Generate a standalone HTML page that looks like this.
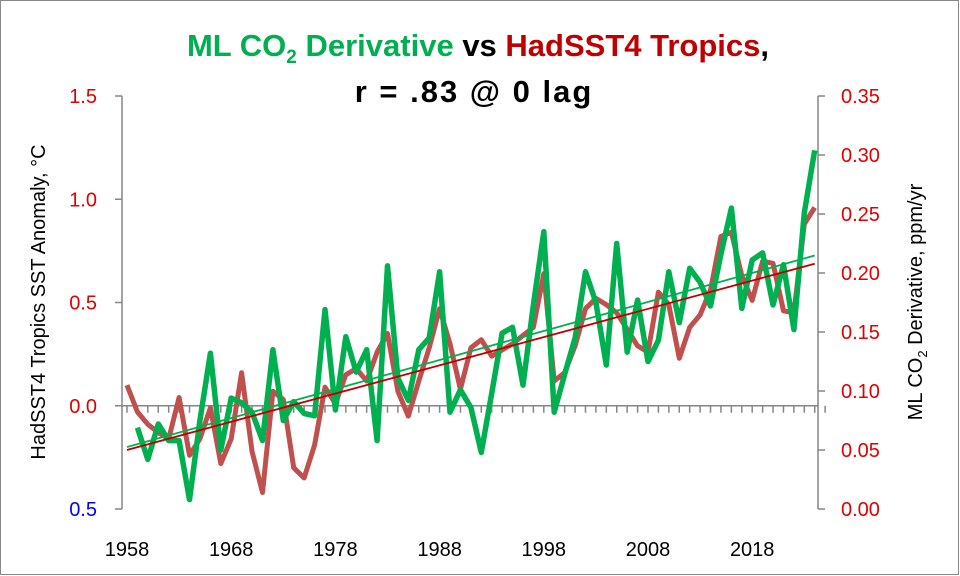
<!DOCTYPE html>
<html><head><meta charset="utf-8"><style>
body{margin:0;background:#fff}
svg{display:block;font-family:"Liberation Sans",sans-serif}
</style></head><body>
<svg id="chart" width="960" height="576" viewBox="0 0 960 576">
<rect x="0.5" y="0.5" width="958" height="574" fill="#fff" stroke="#888"/>
<text x="478" y="56" text-anchor="middle" font-size="31" font-weight="bold"><tspan fill="#00b050">ML CO<tspan font-size="19" dy="7">2</tspan><tspan dy="-7"> Derivative</tspan></tspan><tspan fill="#000"> vs </tspan><tspan fill="#c00000">HadSST4 Tropics</tspan><tspan fill="#000">,</tspan></text>
<text x="474" y="102" text-anchor="middle" font-size="31" font-weight="bold" letter-spacing="2" fill="#000">r = .83 @ 0 lag</text>
<g id="axes"></g>
<g id="marks"></g>
<text transform="translate(45,302) rotate(-90)" text-anchor="middle" font-size="20" fill="#000">HadSST4 Tropics SST Anomaly, °C</text>
<text transform="translate(922,302) rotate(-90)" text-anchor="middle" font-size="20" fill="#000">ML CO<tspan font-size="13" dy="5">2</tspan><tspan dy="-5"> Derivative, ppm/yr</tspan></text>
</svg>
<script>
const redYears0 = 1958;
const redValues = [0.10,-0.03,-0.09,-0.13,-0.16,0.04,-0.24,-0.16,-0.01,-0.28,-0.16,0.16,-0.22,-0.42,0.07,0.03,-0.30,-0.35,-0.19,0.09,0.01,0.15,0.18,0.12,0.26,0.35,0.07,-0.05,0.12,0.28,0.47,0.30,0.08,0.28,0.32,0.24,0.27,0.30,0.34,0.38,0.64,0.12,0.16,0.29,0.47,0.52,0.49,0.45,0.37,0.29,0.26,0.55,0.49,0.23,0.38,0.44,0.56,0.82,0.84,0.63,0.51,0.70,0.69,0.46,0.45,0.88,0.96];
const greenYears0 = 1959;
const greenValues = [0.069,0.042,0.072,0.058,0.058,0.008,0.075,0.132,0.050,0.094,0.090,0.082,0.058,0.135,0.075,0.091,0.081,0.079,0.169,0.084,0.146,0.116,0.135,0.058,0.206,0.111,0.092,0.135,0.145,0.201,0.082,0.101,0.086,0.048,0.098,0.149,0.154,0.105,0.173,0.235,0.082,0.114,0.145,0.201,0.175,0.122,0.225,0.133,0.177,0.125,0.143,0.201,0.158,0.204,0.192,0.172,0.216,0.255,0.170,0.211,0.217,0.173,0.207,0.152,0.251,0.304];
const leftTicks = [1.5,1.0,0.5,0.0,-0.5];
const leftTickLabels = ["1.5","1.0","0.5","0.0","0.5"];
const rightTicks = [0.35,0.30,0.25,0.20,0.15,0.10,0.05,0.00];
const xTickYears = [1958,1968,1978,1988,1998,2008,2018];

const NS="http://www.w3.org/2000/svg";
const X0=127, PXY=10.42, TOP=96, BOT=509;
const xs=y=>X0+(y-1958)*PXY;
const yl=v=>TOP+(1.5-v)*(BOT-TOP)/2;
const yr=v=>TOP+(0.35-v)*(BOT-TOP)/0.35;
function mk(tag,attrs,parent){const e=document.createElementNS(NS,tag);for(const k in attrs)e.setAttribute(k,attrs[k]);parent.appendChild(e);return e;}
const axes=document.getElementById('axes'), marks=document.getElementById('marks');
let e;
e=mk('line',{x1:122,y1:TOP,x2:122,y2:BOT,stroke:'#868686','stroke-width':1.5},axes);


e=mk('line',{x1:818,y1:TOP,x2:818,y2:BOT,stroke:'#868686','stroke-width':1.5},axes);


e=mk('line',{x1:122,y1:yl(0),x2:818,y2:yl(0),stroke:'#868686','stroke-width':1.5},axes);


for(let y=1958;y<=2025;y++){mk('line',{x1:xs(y),y1:yl(0),x2:xs(y),y2:yl(0)+7,stroke:'#868686','stroke-width':1.5},axes);}
leftTicks.forEach((v,i)=>{
  mk('line',{x1:115,y1:yl(v),x2:122,y2:yl(v),stroke:'#868686','stroke-width':1.5},axes);
  const t=mk('text',{x:97,y:yl(v)+7,'text-anchor':'end','font-size':20,fill:v<0?'#0000ff':'#e00000'},axes);
  t.textContent=leftTickLabels[i];
  
  
});
rightTicks.forEach(v=>{
  mk('line',{x1:818,y1:yr(v),x2:825,y2:yr(v),stroke:'#868686','stroke-width':1.5},axes);
  const t=mk('text',{x:841,y:yr(v)+7,'font-size':20,fill:'#e00000'},axes);
  t.textContent=v.toFixed(2);
  
  
});
xTickYears.forEach(y=>{
  const t=mk('text',{x:xs(y),y:556,'text-anchor':'middle','font-size':20,fill:'#000'},axes);
  t.textContent=y;
  
  
});
function fit(y0,vals){const n=vals.length;let sx=0,sy=0,sxx=0,sxy=0;vals.forEach((v,i)=>{const x=y0+i;sx+=x;sy+=v;sxx+=x*x;sxy+=x*v;});const b=(n*sxy-sx*sy)/(n*sxx-sx*sx);return [b,(sy-b*sx)/n];}
const rp=redValues.map((v,i)=>xs(redYears0+i).toFixed(1)+','+yl(v).toFixed(1)).join(' ');
const gp=greenValues.map((v,i)=>xs(greenYears0+i).toFixed(1)+','+yr(v).toFixed(1)).join(' ');
e=mk('polyline',{points:rp,fill:'none',stroke:'#c0504d','stroke-width':5,'stroke-linejoin':'round'},marks);


e=mk('polyline',{points:gp,fill:'none',stroke:'#00b050','stroke-width':5.5,'stroke-linejoin':'round'},marks);


let [b,a]=fit(greenYears0,greenValues);
const gx1=1958, gx2=greenYears0+greenValues.length-1;
e=mk('line',{x1:xs(gx1),y1:yr(a+b*gx1),x2:xs(gx2),y2:yr(a+b*gx2),stroke:'#00b050','stroke-width':1.8},marks);


[b,a]=fit(redYears0,redValues);
const rx2=redYears0+redValues.length-1;
e=mk('line',{x1:xs(1958),y1:yl(a+b*1958),x2:xs(rx2),y2:yl(a+b*rx2),stroke:'#c00000','stroke-width':1.8},marks);


</script>
</body></html>
